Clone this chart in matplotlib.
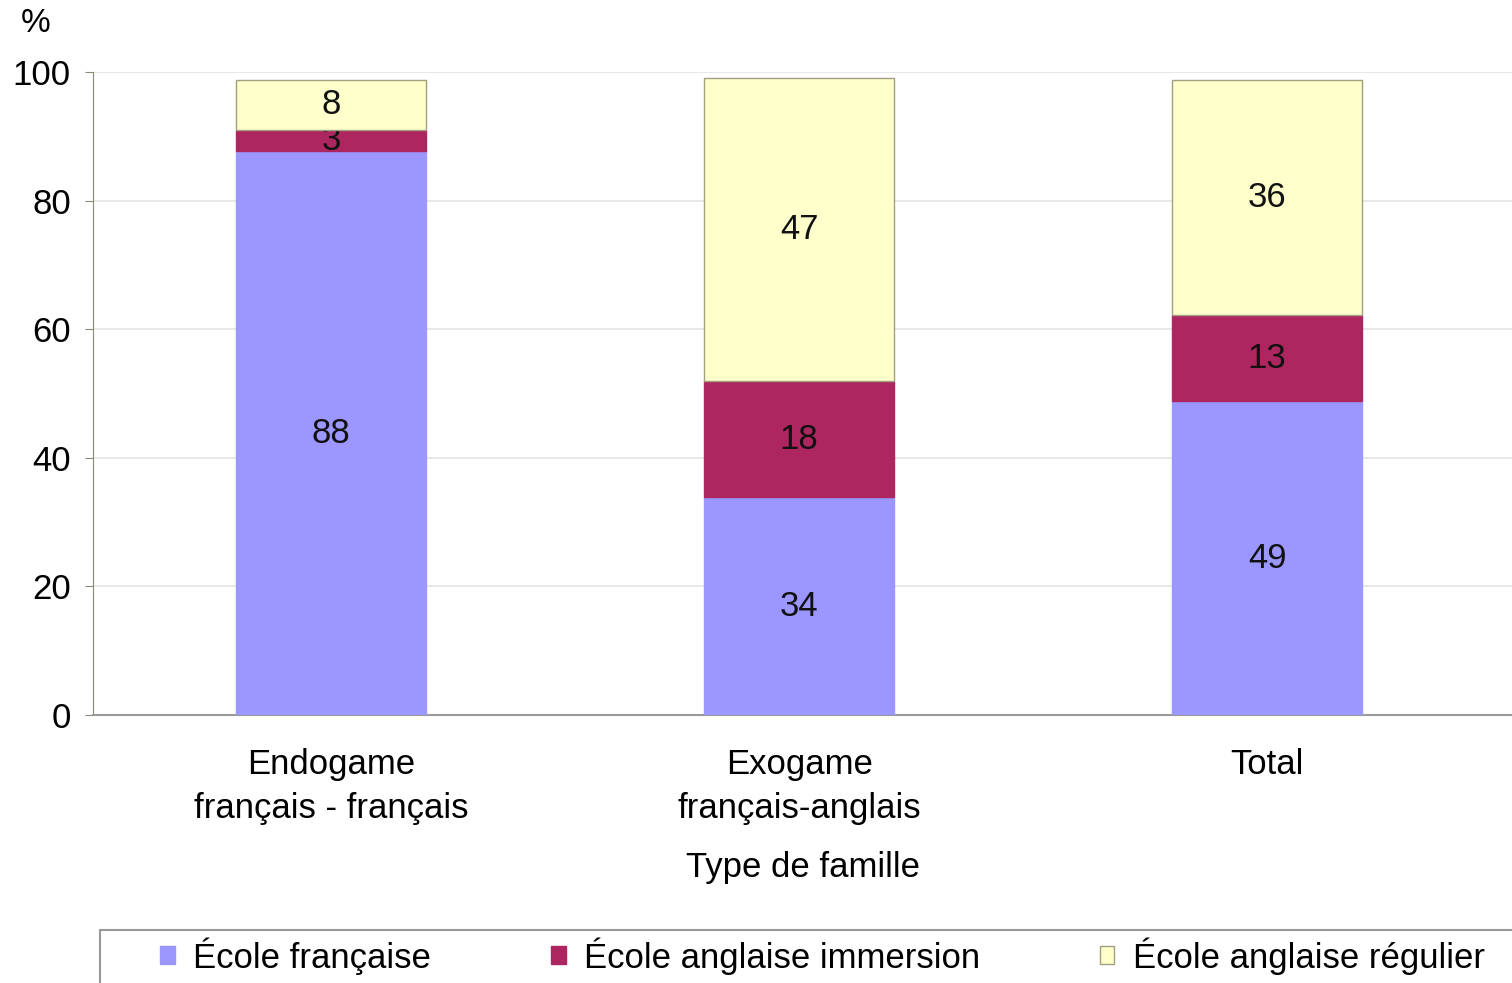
import matplotlib
matplotlib.use("Agg")
import matplotlib.pyplot as plt
from matplotlib.patches import Rectangle
import numpy as np

plt.rcParams['font.family'] = ['Liberation Sans', 'DejaVu Sans']

# donnees (hauteurs estimees, etiquettes affichees)
familles = ['Endogame\nfrançais - français', 'Exogame\nfrançais-anglais', 'Total']
ecole_francaise = [87.7, 33.9, 48.8]
ecole_immersion = [3.3, 18.0, 13.4]
ecole_reguliere = [7.8, 47.2, 36.6]
etiq_francaise = ['88', '34', '49']
etiq_immersion = ['3', '18', '13']
etiq_reguliere = ['8', '47', '36']
series = ['École française', 'École anglaise immersion', 'École anglaise régulier']
couleurs = ['#9C96FF', '#AE2660', '#FFFFCC']

fig = plt.figure(figsize=(15.12, 9.83), dpi=100)
ax = fig.add_axes([93/1512, 1-715/983, 1-93/1512, (715-72)/983])

x = np.arange(len(familles))
w = 0.406
bas = np.zeros(len(familles))
for vals, etiq, nom, c in zip([ecole_francaise, ecole_immersion, ecole_reguliere],
                              [etiq_francaise, etiq_immersion, etiq_reguliere], series, couleurs):
    ec = '#A0A080' if c == '#FFFFCC' else c
    bars = ax.bar(x, vals, w, bottom=bas, color=c, edgecolor=ec, linewidth=1, label=nom, zorder=3)
    ax.bar_label(bars, labels=etiq, label_type='center', fontsize=25, color='#111111')
    bas += np.array(vals)

ax.set_xlim(-0.509, 2.523)
ax.set_ylim(0, 100)
ax.set_yticks([0, 20, 40, 60, 80, 100])
ax.grid(axis='y', color='#E4E4E4', linewidth=1.2, zorder=0)
for s in ['top', 'right']:
    ax.spines[s].set_visible(False)
ax.spines['left'].set_color('#888877')
ax.spines['bottom'].set_color('#999999')
ax.spines['bottom'].set_linewidth(1.5)
ax.tick_params(axis='y', labelsize=25, length=6, color='#888877', pad=10)
ax.tick_params(axis='x', labelsize=25, length=0, pad=24)
ax.set_xticks(x)
ax.set_xticklabels(familles, linespacing=1.4)
ax.set_xlabel('Type de famille', fontsize=25, labelpad=19)

fig.text(36/1512, 1-23/983, '%', fontsize=24, ha='center', va='center')

# cadre de la legende (coupe par le bas de l'image)
fig.patches.append(Rectangle((100/1512, -0.05), 1.0, 1-930/983+0.05, transform=fig.transFigure,
                             facecolor='white', edgecolor='#999999', linewidth=1.5, zorder=0))
h, l = ax.get_legend_handles_labels()
fig.legend(h, l, loc='center left', bbox_to_anchor=(160/1512, 1-956/983), ncol=3,
           fontsize=25, frameon=False, handlelength=0.43, handleheight=0.43,
           handletextpad=0.52, columnspacing=3.45, borderpad=0, borderaxespad=0)

fig.savefig('out.png', dpi=100)
